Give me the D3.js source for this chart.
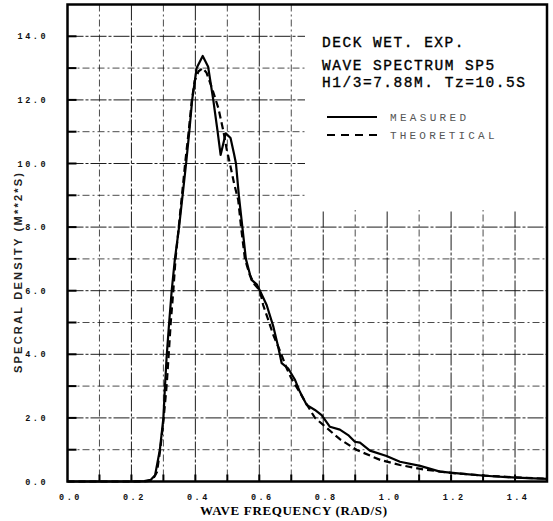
<!DOCTYPE html>
<html>
<head>
<meta charset="utf-8">
<script src="https://cdn.jsdelivr.net/npm/d3@7"></script>
<style>
  body { margin: 0; background: #fff; }
  svg { display: block; }
  .tick-label { font-family: "Liberation Mono", monospace; font-weight: bold; font-size: 8.5px; fill: #111; }
</style>
</head>
<body>
<div id="chart"></div>
<script>
// measured spectrum (solid)
var measuredFreq = [0.00, 0.20, 0.24, 0.26, 0.274, 0.289, 0.300, 0.305, 0.310, 0.318, 0.326, 0.336, 0.349, 0.360, 0.371, 0.381, 0.390, 0.404, 0.423, 0.440, 0.456, 0.469, 0.479, 0.495, 0.510, 0.521, 0.527, 0.536, 0.547, 0.558, 0.575, 0.592, 0.602, 0.623, 0.644, 0.659, 0.670, 0.690, 0.712, 0.727, 0.748, 0.774, 0.795, 0.821, 0.852, 0.878, 0.899, 0.915, 0.946, 0.998, 1.040, 1.103, 1.165, 1.238, 1.306, 1.405, 1.478, 1.500];
var measuredDensity = [0.00, 0.00, 0.01, 0.05, 0.20, 1.00, 2.00, 3.00, 3.90, 5.00, 6.00, 7.00, 8.00, 9.00, 10.00, 11.00, 12.00, 13.00, 13.38, 13.04, 12.00, 11.05, 10.27, 10.95, 10.80, 10.30, 10.00, 9.00, 8.00, 7.00, 6.35, 6.20, 6.00, 5.55, 4.87, 4.24, 3.72, 3.56, 3.19, 2.82, 2.41, 2.25, 2.09, 1.72, 1.63, 1.46, 1.25, 1.22, 0.97, 0.80, 0.62, 0.49, 0.31, 0.24, 0.18, 0.12, 0.09, 0.08];

// theoretical spectrum (dashed)
var theoreticalFreq = [0.00, 0.24, 0.265, 0.280, 0.290, 0.300, 0.310, 0.316, 0.323, 0.331, 0.338, 0.348, 0.358, 0.368, 0.379, 0.389, 0.398, 0.410, 0.423, 0.435, 0.451, 0.472, 0.487, 0.498, 0.508, 0.521, 0.534, 0.543, 0.555, 0.570, 0.585, 0.602, 0.612, 0.628, 0.644, 0.665, 0.686, 0.700, 0.722, 0.750, 0.774, 0.800, 0.852, 0.905, 0.978, 1.040, 1.113, 1.200, 1.300, 1.400, 1.500];
var theoreticalDensity = [0.00, 0.00, 0.03, 0.30, 1.00, 1.90, 3.00, 3.90, 5.00, 6.00, 7.00, 8.00, 9.00, 10.00, 11.00, 12.00, 12.60, 12.90, 13.00, 12.85, 12.40, 11.74, 11.05, 10.45, 10.00, 9.38, 8.85, 8.00, 7.00, 6.50, 6.20, 6.00, 5.55, 5.08, 4.60, 4.10, 3.55, 3.25, 2.88, 2.40, 2.00, 1.78, 1.33, 0.99, 0.68, 0.52, 0.38, 0.27, 0.19, 0.13, 0.09];

var xTickLabels = [0.0, 0.2, 0.4, 0.6, 0.8, 1.0, 1.2, 1.4];
var yTickLabels = [0.0, 2.0, 4.0, 6.0, 8.0, 10.0, 12.0, 14.0];
var titleLines = ["DECK WET. EXP.", "WAVE SPECTRUM SP5", "H1/3=7.88M. Tz=10.5S"];
var legendNames = ["MEASURED", "THEORETICAL"];

var W = 553, H = 521;
var x = d3.scaleLinear().domain([0, 1.5]).range([67.5, 547]);
var y = d3.scaleLinear().domain([0, 15]).range([481.5, 4.5]);

var svg = d3.select("#chart").append("svg")
  .attr("width", W)
  .attr("height", H);

var xGrid = d3.range(1, 15).map(function(i) { return i / 10; });
var yGrid = d3.range(1, 15);

// grid
svg.append("g").selectAll("line")
  .data(xGrid).enter().append("line")
  .attr("x1", function(d) { return x(d); })
  .attr("x2", function(d) { return x(d); })
  .attr("y1", y(15)).attr("y2", y(0))
  .attr("stroke", "#111")
  .attr("stroke-width", 1)
  .attr("stroke-dasharray", function(d, i) { return (i % 2 == 1) ? "16,2,3,2" : "7,3,2,3"; })
  .attr("opacity", function(d, i) { return (i % 2 == 1) ? 0.95 : 0.75; });

svg.append("g").selectAll("line")
  .data(yGrid).enter().append("line")
  .attr("x1", x(0)).attr("x2", x(1.5))
  .attr("y1", function(d) { return y(d); })
  .attr("y2", function(d) { return y(d); })
  .attr("stroke", "#111")
  .attr("stroke-width", 1)
  .attr("stroke-dasharray", function(d) { return (d % 2 == 0) ? "16,2,3,2" : "7,3,2,3"; })
  .attr("opacity", function(d) { return (d % 2 == 0) ? 0.95 : 0.75; });

// blank panel behind the title block (grid is not drawn there)
svg.append("rect")
  .attr("x", 305).attr("y", y(15))
  .attr("width", x(1.5) - 305)
  .attr("height", 210 - y(15))
  .attr("fill", "#fff");

// inner ticks
svg.append("g").selectAll("line")
  .data(xGrid).enter().append("line")
  .attr("x1", function(d) { return x(d); })
  .attr("x2", function(d) { return x(d); })
  .attr("y1", y(0)).attr("y2", y(0) - 7)
  .attr("stroke", "#000").attr("stroke-width", 2);

svg.append("g").selectAll("line")
  .data(yGrid).enter().append("line")
  .attr("x1", x(0)).attr("x2", x(0) + 9)
  .attr("y1", function(d) { return y(d); })
  .attr("y2", function(d) { return y(d); })
  .attr("stroke", "#000").attr("stroke-width", 2);

// frame
svg.append("rect")
  .attr("x", x(0)).attr("y", y(15))
  .attr("width", x(1.5) - x(0))
  .attr("height", y(0) - y(15))
  .attr("fill", "none")
  .attr("stroke", "#000")
  .attr("stroke-width", 2.5);

// tick labels
svg.append("g").selectAll("text")
  .data(xTickLabels).enter().append("text")
  .attr("class", "tick-label")
  .attr("x", function(d) { return x(d) + 3; })
  .attr("y", 500)
  .attr("text-anchor", "middle")
  .style("letter-spacing", "2.5px")
  .text(function(d) { return d3.format(".1f")(d); });

svg.append("g").selectAll("text")
  .data(yTickLabels).enter().append("text")
  .attr("class", "tick-label")
  .attr("x", 48)
  .attr("y", function(d) { return y(d) + 3; })
  .attr("text-anchor", "end")
  .style("letter-spacing", "2.5px")
  .text(function(d) { return d3.format(".1f")(d); });

// axis titles
svg.append("text")
  .attr("x", 200).attr("y", 515)
  .attr("textLength", 187).attr("lengthAdjust", "spacing")
  .style("font-family", "Liberation Serif, serif")
  .style("font-weight", "bold")
  .style("font-size", "13px")
  .text("WAVE FREQUENCY (RAD/S)");

svg.append("text")
  .attr("transform", "translate(22,373) rotate(-90)")
  .attr("textLength", 200).attr("lengthAdjust", "spacing")
  .style("font-family", "Liberation Sans, sans-serif")
  .style("font-size", "11px")
  .style("font-weight", "bold")
  .style("fill", "#222")
  .text("SPECRAL DENSITY (M**2*S)");

// curves
var line = d3.line()
  .x(function(d) { return x(d[0]); })
  .y(function(d) { return y(d[1]); });

svg.append("path")
  .datum(d3.zip(theoreticalFreq, theoreticalDensity))
  .attr("d", line)
  .attr("fill", "none")
  .attr("stroke", "#000")
  .attr("stroke-width", 2.2)
  .attr("stroke-dasharray", "7,4");

svg.append("path")
  .datum(d3.zip(measuredFreq, measuredDensity))
  .attr("d", line)
  .attr("fill", "none")
  .attr("stroke", "#000")
  .attr("stroke-width", 2.2)
  .attr("stroke-linejoin", "round");

// title block (typewriter style, fixed pitch)
var titleY = [47, 70, 87];
svg.append("g").selectAll("text")
  .data(titleLines).enter().append("text")
  .attr("x", 322)
  .attr("y", function(d, i) { return titleY[i]; })
  .attr("textLength", function(d) { return d.length * 10.25 - 2; })
  .attr("lengthAdjust", "spacing")
  .style("font-family", "Liberation Mono, monospace")
  .style("font-size", "14.5px")
  .style("fill", "#000")
  .style("stroke", "#000")
  .style("stroke-width", 0.35)
  .text(function(d) { return d; });

// legend
var legY = [117, 135];
svg.append("line")
  .attr("x1", 327).attr("x2", 377)
  .attr("y1", legY[0]).attr("y2", legY[0])
  .attr("stroke", "#000").attr("stroke-width", 2);
svg.append("line")
  .attr("x1", 327).attr("x2", 377)
  .attr("y1", legY[1]).attr("y2", legY[1])
  .attr("stroke", "#000").attr("stroke-width", 2)
  .attr("stroke-dasharray", "8,6");

svg.append("g").selectAll("text")
  .data(legendNames).enter().append("text")
  .attr("x", 390)
  .attr("y", function(d, i) { return legY[i] + 4; })
  .attr("textLength", function(d) { return d.length * 9.5; })
  .attr("lengthAdjust", "spacing")
  .style("font-family", "Liberation Mono, monospace")
  .style("font-size", "11px")
  .style("fill", "#555")
  .text(function(d) { return d; });
</script>
</body>
</html>
